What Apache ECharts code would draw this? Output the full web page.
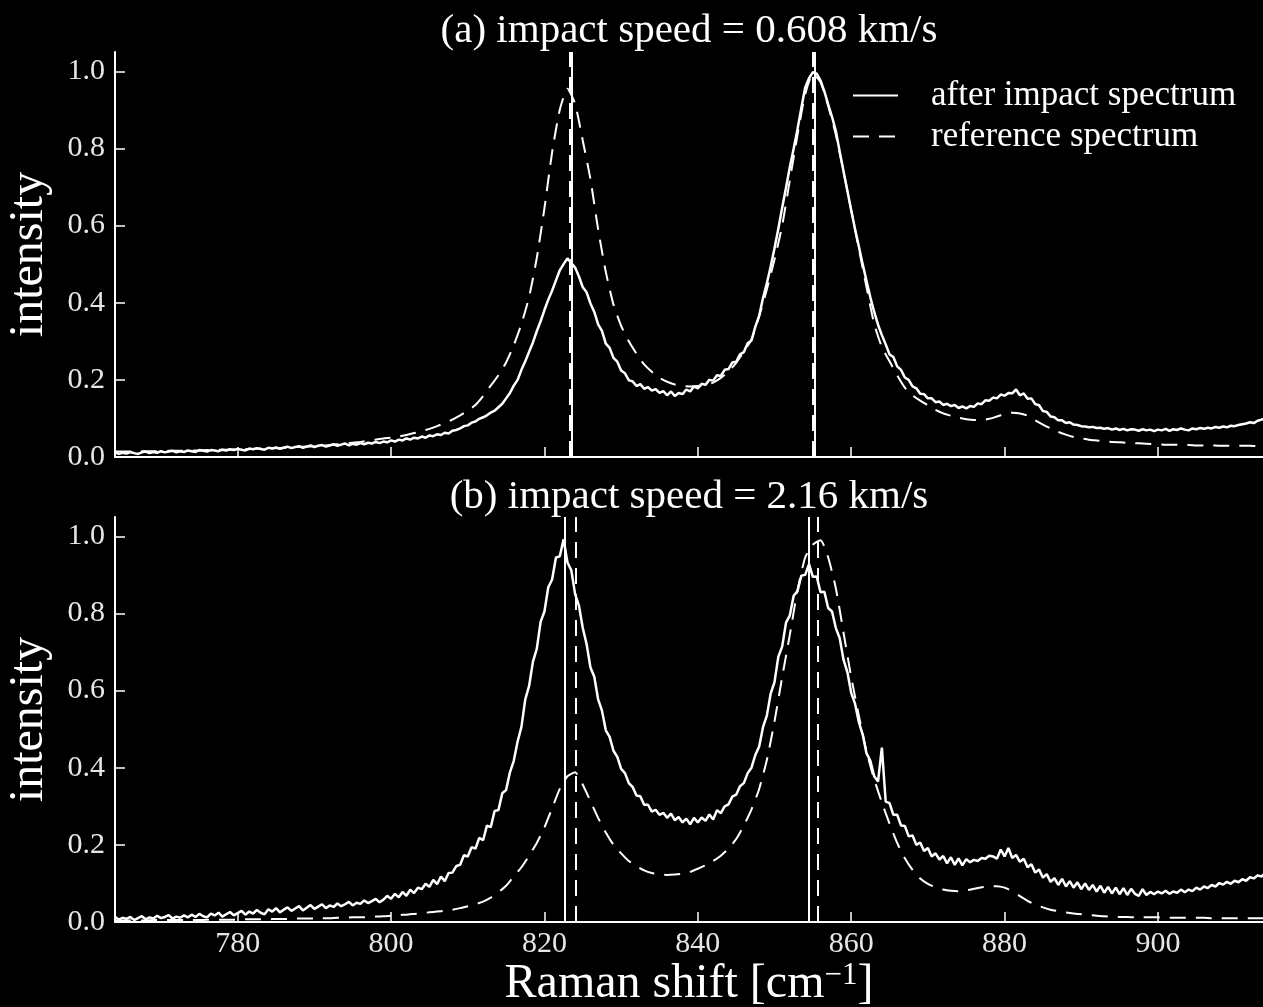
<!DOCTYPE html>
<html>
<head>
<meta charset="utf-8">
<script src="https://cdn.jsdelivr.net/npm/echarts@6/dist/echarts.min.js"></script>
<style>
html,body{margin:0;padding:0;background:#000;}
#chart{width:1263px;height:1007px;}
</style>
</head>
<body>
<div id="chart"></div>
<script>
// Raman shift sampling (cm^-1) for the measured (noisy) spectra
const shiftFine = [
764,764.5,765,765.5,766,766.5,767,767.5,768,768.5,
769,769.5,770,770.5,771,771.5,772,772.5,773,773.5,
774,774.5,775,775.5,776,776.5,777,777.5,778,778.5,
779,779.5,780,780.5,781,781.5,782,782.5,783,783.5,
784,784.5,785,785.5,786,786.5,787,787.5,788,788.5,
789,789.5,790,790.5,791,791.5,792,792.5,793,793.5,
794,794.5,795,795.5,796,796.5,797,797.5,798,798.5,
799,799.5,800,800.5,801,801.5,802,802.5,803,803.5,
804,804.5,805,805.5,806,806.5,807,807.5,808,808.5,
809,809.5,810,810.5,811,811.5,812,812.5,813,813.5,
814,814.5,815,815.5,816,816.5,817,817.5,818,818.5,
819,819.5,820,820.5,821,821.5,822,822.5,823,823.5,
824,824.5,825,825.5,826,826.5,827,827.5,828,828.5,
829,829.5,830,830.5,831,831.5,832,832.5,833,833.5,
834,834.5,835,835.5,836,836.5,837,837.5,838,838.5,
839,839.5,840,840.5,841,841.5,842,842.5,843,843.5,
844,844.5,845,845.5,846,846.5,847,847.5,848,848.5,
849,849.5,850,850.5,851,851.5,852,852.5,853,853.5,
854,854.5,855,855.5,856,856.5,857,857.5,858,858.5,
859,859.5,860,860.5,861,861.5,862,862.5,863,863.5,
864,864.5,865,865.5,866,866.5,867,867.5,868,868.5,
869,869.5,870,870.5,871,871.5,872,872.5,873,873.5,
874,874.5,875,875.5,876,876.5,877,877.5,878,878.5,
879,879.5,880,880.5,881,881.5,882,882.5,883,883.5,
884,884.5,885,885.5,886,886.5,887,887.5,888,888.5,
889,889.5,890,890.5,891,891.5,892,892.5,893,893.5,
894,894.5,895,895.5,896,896.5,897,897.5,898,898.5,
899,899.5,900,900.5,901,901.5,902,902.5,903,903.5,
904,904.5,905,905.5,906,906.5,907,907.5,908,908.5,
909,909.5,910,910.5,911,911.5,912,912.5,913,913.5,
914
];

// (a) after impact spectrum, 0.608 km/s
const afterA = [
0.012,0.008,0.011,0.009,0.013,0.010,0.008,0.012,0.014,0.010,
0.013,0.011,0.015,0.012,0.014,0.016,0.012,0.015,0.013,0.017,
0.015,0.013,0.018,0.016,0.014,0.018,0.017,0.015,0.019,0.017,
0.020,0.018,0.021,0.019,0.017,0.022,0.020,0.023,0.021,0.019,
0.024,0.022,0.025,0.021,0.024,0.027,0.023,0.026,0.028,0.024,
0.027,0.030,0.026,0.029,0.031,0.027,0.030,0.033,0.029,0.032,
0.035,0.030,0.034,0.032,0.036,0.033,0.037,0.035,0.039,0.036,
0.040,0.038,0.043,0.040,0.045,0.043,0.048,0.045,0.050,0.048,
0.053,0.050,0.056,0.054,0.059,0.057,0.063,0.061,0.068,0.070,
0.074,0.080,0.082,0.089,0.092,0.099,0.103,0.108,0.115,0.120,
0.129,0.138,0.152,0.166,0.185,0.200,0.226,0.248,0.273,0.297,
0.326,0.352,0.381,0.408,0.431,0.458,0.484,0.500,0.515,0.503,
0.491,0.468,0.440,0.427,0.398,0.376,0.344,0.327,0.294,0.283,
0.257,0.247,0.224,0.217,0.199,0.196,0.184,0.189,0.177,0.181,
0.172,0.176,0.166,0.171,0.160,0.170,0.158,0.166,0.163,0.175,
0.170,0.183,0.178,0.190,0.187,0.200,0.198,0.212,0.210,0.226,
0.228,0.245,0.247,0.266,0.272,0.295,0.302,0.338,0.366,0.412,
0.450,0.494,0.541,0.592,0.646,0.698,0.752,0.800,0.850,0.905,
0.958,0.982,0.998,0.994,0.976,0.948,0.914,0.882,0.845,0.792,
0.741,0.690,0.640,0.591,0.546,0.500,0.456,0.414,0.376,0.343,
0.316,0.292,0.266,0.259,0.235,0.226,0.206,0.200,0.183,0.178,
0.164,0.163,0.152,0.152,0.142,0.144,0.135,0.138,0.132,0.135,
0.127,0.131,0.126,0.132,0.130,0.139,0.137,0.147,0.146,0.154,
0.152,0.162,0.159,0.166,0.165,0.175,0.160,0.165,0.151,0.152,
0.137,0.134,0.119,0.117,0.105,0.103,0.095,0.095,0.088,0.090,
0.084,0.083,0.080,0.079,0.077,0.078,0.075,0.076,0.073,0.075,
0.071,0.074,0.070,0.073,0.069,0.072,0.071,0.068,0.072,0.069,
0.071,0.067,0.071,0.069,0.073,0.068,0.072,0.070,0.074,0.071,
0.069,0.074,0.072,0.075,0.073,0.076,0.074,0.078,0.076,0.079,
0.077,0.081,0.080,0.083,0.085,0.087,0.090,0.088,0.094,0.097,
0.099
];

// (b) after impact spectrum, 2.16 km/s
const afterB = [
0.014,0.006,0.011,0.008,0.013,0.005,0.010,0.015,0.007,0.012,
0.009,0.016,0.010,0.013,0.018,0.009,0.014,0.011,0.017,0.012,
0.019,0.013,0.021,0.015,0.012,0.022,0.017,0.024,0.014,0.020,
0.026,0.017,0.023,0.029,0.019,0.027,0.022,0.031,0.024,0.020,
0.033,0.027,0.036,0.025,0.032,0.038,0.029,0.035,0.041,0.030,
0.037,0.044,0.034,0.040,0.046,0.036,0.043,0.039,0.048,0.041,
0.046,0.052,0.043,0.050,0.047,0.056,0.049,0.054,0.060,0.051,
0.058,0.068,0.060,0.073,0.064,0.078,0.068,0.084,0.075,0.089,
0.085,0.099,0.091,0.109,0.098,0.118,0.106,0.127,0.128,0.145,
0.148,0.173,0.170,0.194,0.190,0.218,0.212,0.250,0.246,0.288,
0.290,0.334,0.342,0.388,0.418,0.468,0.506,0.577,0.612,0.675,
0.708,0.778,0.805,0.868,0.888,0.945,0.948,0.992,0.932,0.912,
0.850,0.820,0.762,0.720,0.660,0.636,0.577,0.548,0.497,0.480,
0.444,0.428,0.397,0.386,0.360,0.350,0.328,0.326,0.304,0.304,
0.286,0.291,0.278,0.283,0.270,0.281,0.264,0.272,0.258,0.268,
0.253,0.270,0.258,0.271,0.262,0.279,0.266,0.290,0.282,0.300,
0.305,0.325,0.330,0.352,0.360,0.386,0.400,0.433,0.455,0.505,
0.535,0.592,0.622,0.688,0.714,0.776,0.795,0.846,0.858,0.898,
0.900,0.928,0.895,0.896,0.855,0.856,0.814,0.805,0.762,0.736,
0.680,0.648,0.594,0.566,0.518,0.486,0.437,0.418,0.378,0.364,
0.452,0.312,0.308,0.278,0.278,0.250,0.249,0.222,0.224,0.200,
0.206,0.184,0.192,0.170,0.178,0.162,0.171,0.152,0.168,0.148,
0.165,0.147,0.163,0.155,0.161,0.158,0.166,0.164,0.172,0.170,
0.164,0.188,0.170,0.192,0.166,0.174,0.156,0.164,0.142,0.150,
0.128,0.136,0.115,0.124,0.104,0.114,0.096,0.112,0.092,0.106,
0.089,0.103,0.085,0.100,0.083,0.096,0.079,0.094,0.076,0.091,
0.074,0.089,0.072,0.088,0.070,0.086,0.073,0.068,0.085,0.070,
0.078,0.072,0.079,0.074,0.081,0.073,0.079,0.076,0.084,0.077,
0.084,0.080,0.089,0.084,0.092,0.088,0.096,0.092,0.101,0.097,
0.104,0.099,0.107,0.103,0.111,0.107,0.116,0.113,0.121,0.118,
0.127
];

// Raman shift sampling (cm^-1) for the reference spectra
const shiftCoarse = [
764,765,766,767,768,769,770,771,772,773,
774,775,776,777,778,779,780,781,782,783,
784,785,786,787,788,789,790,791,792,793,
794,795,796,797,798,799,800,801,802,803,
804,805,806,807,808,809,810,811,812,813,
814,815,816,817,818,819,820,821,822,823,
824,825,826,827,828,829,830,831,832,833,
834,835,836,837,838,839,840,841,842,843,
844,845,846,847,848,849,850,851,852,853,
854,855,856,857,858,859,860,861,862,863,
864,865,866,867,868,869,870,871,872,873,
874,875,876,877,878,879,880,881,882,883,
884,885,886,887,888,889,890,891,892,893,
894,895,896,897,898,899,900,901,902,903,
904,905,906,907,908,909,910,911,912,913,
914
];

// (a) reference spectrum
const refA = [
0.014,0.014,0.014,0.015,0.015,0.015,0.015,0.016,0.016,0.016,
0.017,0.017,0.018,0.018,0.019,0.019,0.020,0.020,0.021,0.022,
0.022,0.023,0.024,0.025,0.026,0.027,0.028,0.029,0.031,0.033,
0.035,0.037,0.039,0.042,0.045,0.048,0.050,0.053,0.057,0.062,
0.067,0.073,0.080,0.088,0.097,0.108,0.120,0.135,0.158,0.185,
0.212,0.245,0.290,0.345,0.415,0.516,0.645,0.790,0.900,0.955,
0.915,0.820,0.720,0.590,0.480,0.395,0.340,0.300,0.268,0.240,
0.221,0.205,0.195,0.188,0.184,0.183,0.184,0.187,0.193,0.205,
0.222,0.244,0.273,0.305,0.365,0.434,0.512,0.600,0.718,0.835,
0.940,0.993,0.972,0.910,0.835,0.740,0.640,0.540,0.440,0.345,
0.285,0.248,0.212,0.180,0.160,0.146,0.134,0.122,0.113,0.107,
0.102,0.098,0.096,0.096,0.099,0.105,0.111,0.115,0.113,0.107,
0.095,0.084,0.074,0.065,0.058,0.052,0.048,0.045,0.043,0.041,
0.039,0.038,0.037,0.036,0.035,0.034,0.033,0.032,0.032,0.031,
0.031,0.030,0.030,0.030,0.029,0.029,0.029,0.029,0.029,0.028,
0.028
];

// (b) reference spectrum
const refB = [
0.004,0.004,0.004,0.004,0.004,0.005,0.005,0.005,0.005,0.005,
0.005,0.005,0.006,0.006,0.006,0.006,0.006,0.007,0.007,0.007,
0.007,0.008,0.008,0.008,0.009,0.009,0.009,0.010,0.010,0.011,
0.011,0.012,0.012,0.013,0.014,0.015,0.016,0.018,0.019,0.021,
0.023,0.025,0.027,0.029,0.032,0.036,0.041,0.046,0.053,0.063,
0.077,0.094,0.118,0.142,0.172,0.205,0.245,0.295,0.345,0.378,
0.388,0.356,0.313,0.270,0.232,0.200,0.178,0.158,0.145,0.134,
0.127,0.123,0.122,0.123,0.125,0.130,0.138,0.147,0.158,0.172,
0.190,0.215,0.250,0.292,0.345,0.420,0.520,0.635,0.745,0.860,
0.945,0.978,0.990,0.945,0.865,0.750,0.635,0.535,0.442,0.370,
0.310,0.255,0.205,0.165,0.135,0.113,0.099,0.090,0.084,0.081,
0.080,0.082,0.086,0.090,0.093,0.093,0.089,0.080,0.067,0.055,
0.045,0.038,0.032,0.028,0.025,0.022,0.020,0.018,0.016,0.015,
0.014,0.013,0.013,0.012,0.012,0.012,0.012,0.011,0.011,0.011,
0.011,0.011,0.011,0.010,0.010,0.010,0.010,0.010,0.010,0.010,
0.010
];

// fitted peak positions (vertical marker lines)
const peaksAfterA = [823.5, 855.2];
const peaksRefA = [823.3, 855.0];
const peaksAfterB = [822.6, 854.5];
const peaksRefB = [824.1, 855.6];

const shiftTicks = [780, 800, 820, 840, 860, 880, 900];
const intensityTicks = [0, 0.2, 0.4, 0.6, 0.8, 1.0];
const panelTitles = ['(a) impact speed = 0.608 km/s', '(b) impact speed = 2.16 km/s'];
const seriesNames = ['after impact spectrum', 'reference spectrum'];
const yAxisTitle = 'intensity';
const xAxisTitle = ['Raman shift [cm', '\u22121', ']'];

const FONT = "'Liberation Serif', 'Times New Roman', serif";
const WHITE = '#ffffff';
const TICKCOL = '#e6e6e6';
const DASH = [16, 10];

const pairs = (xs, ys) => xs.map((x, i) => [x, ys[i]]);

function xAxisFor(gridIndex, withLabels) {
  const ax = {
    type: 'value', gridIndex: gridIndex, min: 764, max: 913.7,
    axisLine: {show: true, onZero: false, lineStyle: {color: WHITE, width: 2}},
    axisTick: {show: true, inside: true, length: 10, customValues: shiftTicks,
               lineStyle: {color: WHITE, width: 1.5}},
    axisLabel: {show: withLabels, customValues: shiftTicks, color: TICKCOL,
                fontSize: 30, fontFamily: FONT, margin: 7},
    splitLine: {show: false}
  };
  if (withLabels) {
    ax.name = '{m|' + xAxisTitle[0] + '}{s|' + xAxisTitle[1] + '}{m|' + xAxisTitle[2] + '}';
    ax.nameLocation = 'middle';
    ax.nameGap = 37;
    ax.nameTextStyle = {
      color: WHITE, fontFamily: FONT, fontSize: 48,
      rich: {
        m: {color: WHITE, fontFamily: FONT, fontSize: 48},
        s: {color: WHITE, fontFamily: FONT, fontSize: 31, verticalAlign: 'top'}
      }
    };
  }
  return ax;
}

function yAxisFor(gridIndex) {
  return {
    type: 'value', gridIndex: gridIndex, min: 0, max: 1.05,
    name: yAxisTitle, nameLocation: 'middle', nameRotate: 90, nameGap: 62,
    nameTextStyle: {color: WHITE, fontFamily: FONT, fontSize: 48},
    axisLine: {show: true, lineStyle: {color: WHITE, width: 2}},
    axisTick: {show: true, inside: true, length: 10, customValues: intensityTicks,
               lineStyle: {color: WHITE, width: 1.5}},
    axisLabel: {customValues: intensityTicks, color: TICKCOL, fontSize: 30, fontFamily: FONT,
                margin: 10, formatter: v => Number(v).toFixed(1)},
    splitLine: {show: false}
  };
}

function vLines(values, type) {
  return {
    silent: true, symbol: ['none', 'none'], animation: false,
    label: {show: false},
    lineStyle: {color: WHITE, width: 2, type: type},
    emphasis: {disabled: true},
    data: values.map(v => ({xAxis: v}))
  };
}

function spectrum(name, idx, data, dashed, peaks) {
  return {
    name: name, type: 'line', xAxisIndex: idx, yAxisIndex: idx,
    data: data, showSymbol: false, symbol: 'none', clip: true,
    smooth: dashed ? 0.2 : false,
    lineStyle: {color: WHITE, width: dashed ? 2 : 2.5, type: dashed ? DASH : 'solid'},
    itemStyle: {color: WHITE},
    emphasis: {disabled: true},
    markLine: vLines(peaks, dashed ? DASH : 'solid')
  };
}

const chart = echarts.init(document.getElementById('chart'), null, {renderer: 'canvas'});
chart.setOption({
  backgroundColor: '#000000',
  animation: false,
  textStyle: {fontFamily: FONT, color: WHITE},
  title: [
    {text: panelTitles[0], left: 689, top: 11, textAlign: 'center', padding: 0,
     textStyle: {color: WHITE, fontFamily: FONT, fontSize: 41, fontWeight: 'normal'}},
    {text: panelTitles[1], left: 689, top: 477, textAlign: 'center', padding: 0,
     textStyle: {color: WHITE, fontFamily: FONT, fontSize: 41, fontWeight: 'normal'}}
  ],
  legend: {
    data: seriesNames, orient: 'vertical', left: 852, top: 78,
    itemWidth: 45, itemHeight: 14, itemGap: 6, padding: 0,
    selectedMode: false,
    itemStyle: {opacity: 0},
    lineStyle: {width: 2},
    textStyle: {color: WHITE, fontFamily: FONT, fontSize: 35, lineHeight: 35, padding: [0, 0, 0, 28]}
  },
  grid: [
    {left: 115, top: 52, width: 1148, height: 405, outerBoundsMode: 'none', containLabel: false},
    {left: 115, top: 517, width: 1148, height: 405, outerBoundsMode: 'none', containLabel: false}
  ],
  xAxis: [xAxisFor(0, false), xAxisFor(1, true)],
  yAxis: [yAxisFor(0), yAxisFor(1)],
  series: [
    spectrum(seriesNames[0], 0, pairs(shiftFine, afterA), false, peaksAfterA),
    spectrum(seriesNames[1], 0, pairs(shiftCoarse, refA), true, peaksRefA),
    spectrum(seriesNames[0], 1, pairs(shiftFine, afterB), false, peaksAfterB),
    spectrum(seriesNames[1], 1, pairs(shiftCoarse, refB), true, peaksRefB)
  ]
});
</script>
</body>
</html>
